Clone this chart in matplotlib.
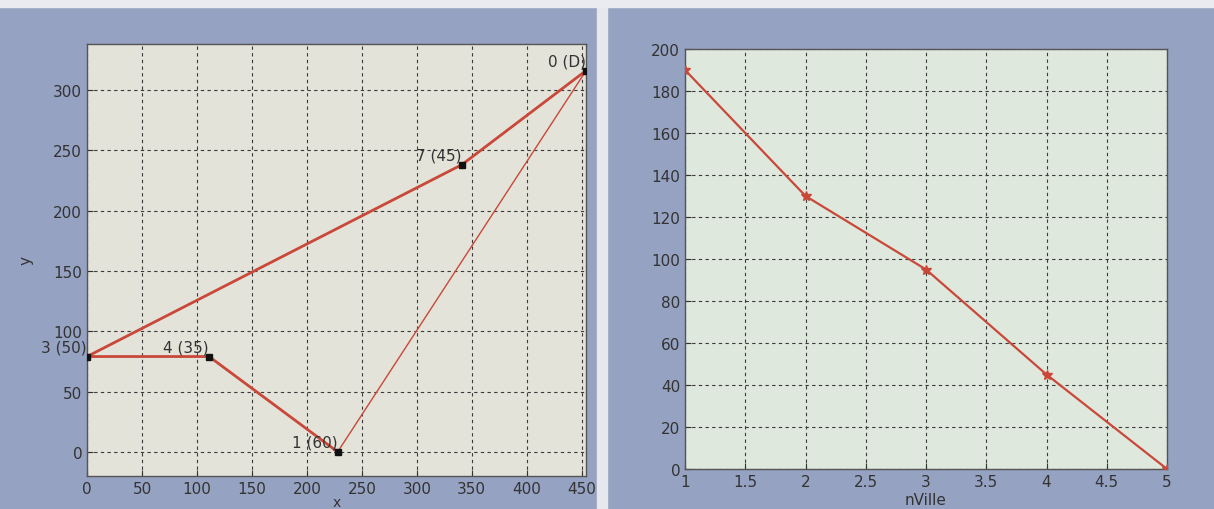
import numpy as np
import matplotlib
matplotlib.use('Agg')
import matplotlib.pyplot as plt
from matplotlib.patches import Rectangle

# tour on the left panel (node id, x, y, label)
node_x = [454, 341, 0, 111, 228]
node_y = [316, 238, 79, 79, 0]
node_labels = ['0 (D)', '7 (45)', '3 (50)', '4 (35)', '1 (60)']

# right panel
n_ville = [1, 2, 3, 4, 5]
cost = [190, 130, 95, 45, 0]

left_xticks = np.arange(0, 451, 50)
left_yticks = np.arange(0, 301, 50)
right_xticks = np.arange(1, 5.01, 0.5)
right_yticks = np.arange(0, 201, 20)

red = '#c9483a'
grid_kw = dict(color='#3a3a3a', linestyle=(0, (3, 3)), linewidth=0.8)

fig = plt.figure(figsize=(12.14, 5.10), dpi=100)
fig.patch.set_facecolor('#96a2c2')
# light strip between the two screenshots and at the top
fig.patches.append(Rectangle((0.492, 0), 0.008, 1, transform=fig.transFigure,
                             color='#e6e8ee', zorder=0))
fig.patches.append(Rectangle((0, 0.985), 1, 0.015, transform=fig.transFigure,
                             color='#e9ebf0', zorder=0))

# ---------------- left panel ----------------
ax1 = fig.add_axes([0.0717, 0.0647, 0.4111, 0.8471])
ax1.set_facecolor('#e3e3d9')
ax1.plot(node_x, node_y, color=red, linewidth=2.0, zorder=3)
ax1.plot([node_x[-1], node_x[0]], [node_y[-1], node_y[0]], color=red,
         linewidth=1.0, zorder=3)
ax1.plot(node_x, node_y, linestyle='none', marker='s', markersize=4,
         color='#111111', zorder=4)
for x, y, lab in zip(node_x, node_y, node_labels):
    ax1.text(x, y + 2, lab, ha='right', va='bottom', fontsize=11,
             color='#333333', clip_on=False, zorder=5)
ax1.set_xlim(0, 454)
ax1.set_ylim(-20, 338)
ax1.set_xticks(left_xticks)
ax1.set_yticks(left_yticks)
ax1.grid(True, **grid_kw)
ax1.set_xlabel('x', fontsize=10, color='#333333')
ax1.xaxis.set_label_coords(0.5, -0.043)
ax1.set_ylabel('y', fontsize=11, color='#333333', labelpad=14)

# ---------------- right panel ----------------
ax2 = fig.add_axes([0.5643, 0.0784, 0.3970, 0.8235])
ax2.set_facecolor('#dfe8dc')
ax2.plot(n_ville, cost, color=red, linewidth=1.6, marker='*', markersize=7,
         zorder=3)
ax2.set_xlim(1, 5)
ax2.set_ylim(0, 200)
ax2.set_xticks(right_xticks)
ax2.set_xticklabels(['1', '1.5', '2', '2.5', '3', '3.5', '4', '4.5', '5'])
ax2.set_yticks(right_yticks)
ax2.grid(True, **grid_kw)
ax2.set_xlabel('nVille', fontsize=11, color='#333333', labelpad=2)

for ax in (ax1, ax2):
    ax.set_axisbelow(True)
    ax.tick_params(labelsize=11, colors='#333333', direction='in', length=4)
    for s in ax.spines.values():
        s.set_color('#555555')
        s.set_linewidth(1.0)

fig.savefig('out.png', dpi=100, facecolor=fig.get_facecolor())
